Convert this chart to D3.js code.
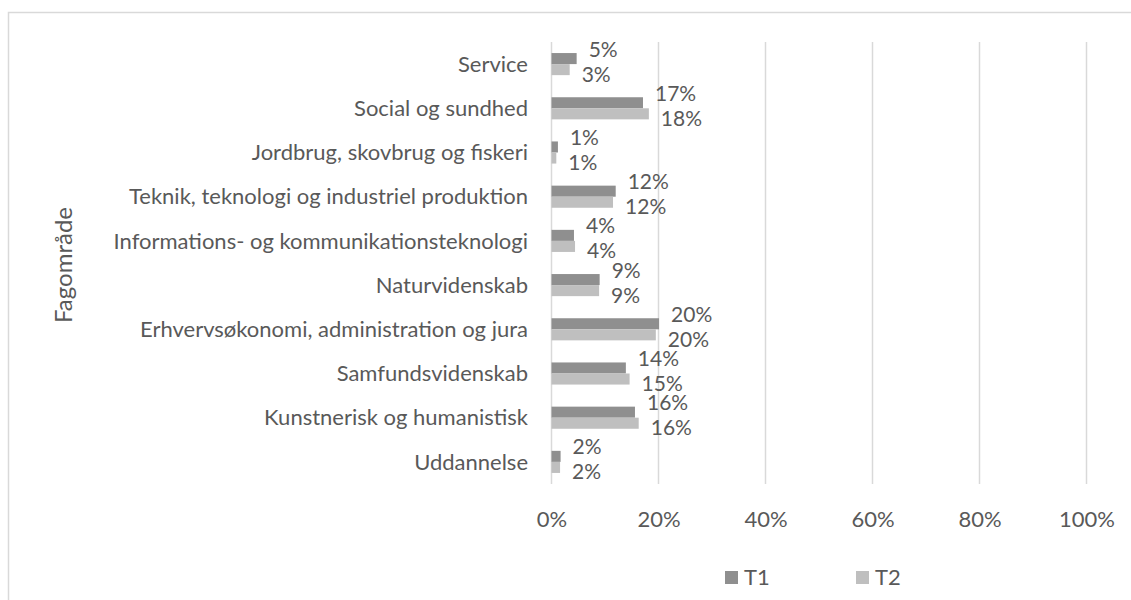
<!DOCTYPE html>
<html><head><meta charset="utf-8">
<script src="https://cdn.jsdelivr.net/npm/d3@7"></script>
<style>body{margin:0;background:#fff}svg{display:block}text{font-family:Lato,"Open Sans",sans-serif;fill:#595959}</style>
</head><body>
<svg id="c" width="1131" height="600"></svg>
<script>
const categories = ["Service","Social og sundhed","Jordbrug, skovbrug og fiskeri","Teknik, teknologi og industriel produktion","Informations- og kommunikationsteknologi","Naturvidenskab","Erhvervsøkonomi, administration og jura","Samfundsvidenskab","Kunstnerisk og humanistisk","Uddannelse"];
const seriesNames = ["T1","T2"];
const t1 = [0.047,0.171,0.012,0.120,0.042,0.090,0.201,0.139,0.156,0.017];
const t2 = [0.034,0.182,0.009,0.115,0.044,0.089,0.195,0.146,0.163,0.016];
const xTicks = [0,0.2,0.4,0.6,0.8,1.0];
const colors = ["#8f8f8f","#bfbfbf"];

const svg = d3.select("#c");
svg.append("rect").attr("x",8.5).attr("y",12.5).attr("width",1140).attr("height",620)
  .attr("fill","#fff").attr("stroke","#d9d9d9").attr("stroke-width",1.5);

const x = d3.scaleLinear().domain([0,1]).range([551.5,1086.5]);
const y = d3.scaleBand().domain(categories).range([42,484]).padding(0);
const ySub = d3.scaleBand().domain(seriesNames).range([y.bandwidth()*0.25, y.bandwidth()*0.75]);

svg.append("g").selectAll("line").data(xTicks).join("line")
  .attr("x1",d=>x(d)).attr("x2",d=>x(d)).attr("y1",42).attr("y2",484)
  .attr("stroke","#d9d9d9").attr("stroke-width",1.5);

const xAxis = d3.axisBottom(x).tickValues(xTicks).tickFormat(d3.format(".0%")).tickSize(0).tickPadding(0);
const gx = svg.append("g").attr("transform","translate(0,527)").call(xAxis);
gx.select(".domain").remove();
gx.selectAll("text").attr("font-size",22).attr("dy",0).style("font-family","Lato").attr("fill","#595959");

const yAxis = d3.axisLeft(y).tickSize(0).tickPadding(0);
const gy = svg.append("g").attr("transform","translate(528,0)").call(yAxis);
gy.select(".domain").remove();
gy.selectAll("text").attr("font-size",22).attr("dy","0.35em").style("font-family","Lato").attr("fill","#595959");

const data = categories.map((c,i)=>({c, vals:[{s:"T1",v:t1[i]},{s:"T2",v:t2[i]}]}));
const groups = svg.append("g").selectAll("g").data(data).join("g")
  .attr("transform",d=>`translate(0,${y(d.c)})`);
groups.selectAll("rect").data(d=>d.vals).join("rect")
  .attr("x",x(0)).attr("y",d=>ySub(d.s)).attr("height",ySub.bandwidth())
  .attr("width",d=>x(d.v)-x(0)).attr("fill",(d,i)=>colors[i]);
groups.selectAll("text.lbl").data(d=>d.vals).join("text").attr("class","lbl")
  .attr("x",d=>x(d.v)+12)
  .attr("y",d=>ySub(d.s)+ySub.bandwidth()/2 + (d.s==="T1"?-9.5:4.5) + 7.5)
  .attr("font-size",21).text(d=>Math.round(d.v*100+1e-9)+"%");

svg.append("text").attr("transform","translate(72,265) rotate(-90)").attr("text-anchor","middle")
  .attr("font-size",24).text("Fagområde");

const leg = svg.append("g").selectAll("g").data(seriesNames).join("g")
  .attr("transform",(d,i)=>`translate(${[725,856][i]},571)`);
leg.append("rect").attr("width",13).attr("height",13).attr("fill",(d,i)=>colors[i]);
leg.append("text").attr("x",19).attr("y",14).attr("font-size",22).text(d=>d);
</script>
</body></html>
